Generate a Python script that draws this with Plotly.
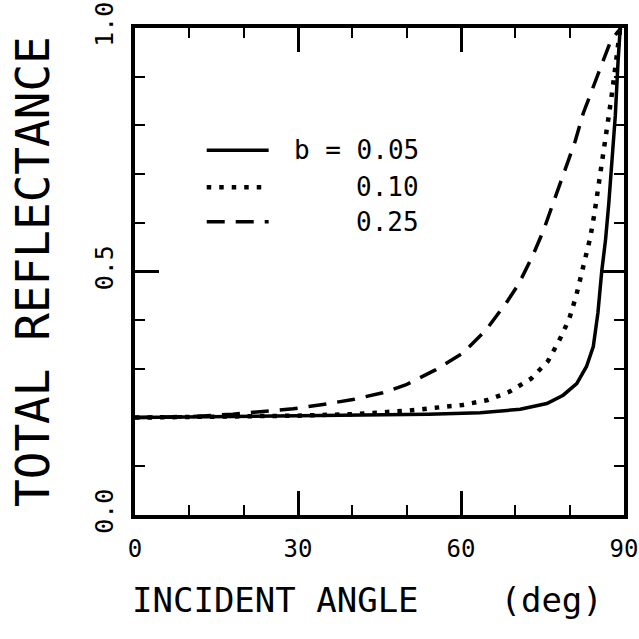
import plotly.graph_objects as go

# ---- data ----
series_labels = ["b = 0.05", "0.10", "0.25"]

angle_b005 = [0, 10, 20, 30, 40, 45, 54, 63.5, 70.9, 75.8, 78.8, 81.3, 83.1, 84.35,
              85.2, 85.9, 86.6, 87.2, 87.8, 88.4, 88.9, 89.3]
refl_b005 = [0.200, 0.201, 0.202, 0.203, 0.205, 0.206, 0.207, 0.210, 0.217, 0.229, 0.246,
             0.270, 0.305, 0.346, 0.415, 0.500, 0.565, 0.640, 0.720, 0.820, 0.930, 1.000]

angle_b010 = [0, 10, 20, 30, 40, 45, 50, 56, 60.3, 64.9, 68.9, 72.9, 76.0, 78.1, 79.9,
              81.2, 82.2, 83.0, 83.8, 84.5, 85.2, 85.8, 86.5, 87.2, 87.9, 88.5, 89.0, 89.3]
refl_b010 = [0.200, 0.201, 0.202, 0.204, 0.207, 0.210, 0.214, 0.221, 0.226, 0.236, 0.253,
             0.280, 0.316, 0.359, 0.402, 0.450, 0.498, 0.535, 0.570, 0.615, 0.665, 0.710,
             0.765, 0.820, 0.875, 0.935, 0.975, 1.000]

angle_b025 = [0, 10, 18, 23.6, 29.1, 34.6, 40.1, 45.6, 49.8, 55.3, 60.3, 64.6, 68.3, 70.7,
              73.3, 75.2, 77.0, 79.1, 81.0, 82.5, 85.0, 87.4, 88.7, 89.5]
refl_b025 = [0.200, 0.202, 0.207, 0.213, 0.218, 0.227, 0.237, 0.251, 0.267, 0.298, 0.332,
             0.380, 0.435, 0.476, 0.535, 0.585, 0.643, 0.708, 0.767, 0.825, 0.900, 0.969,
             0.990, 1.000]

x_ticks = [0, 30, 60, 90]
x_ticklabels = ["0", "30", "60", "90"]
y_ticks = [0.0, 0.5, 1.0]
y_ticklabels = ["0.0", "0.5", "1.0"]

x_title = "INCIDENT ANGLE\u00a0\u00a0\u00a0\u00a0(deg)"
y_title = "TOTAL REFLECTANCE"

FONT = "DejaVu Sans Mono"
dashes = ["solid", "4.5px,8px", "18px,11px"]
widths = [3.5, 4.5, 3.5]

fig = go.Figure()
for xs, ys, d, w in zip([angle_b005, angle_b010, angle_b025],
                        [refl_b005, refl_b010, refl_b025], dashes, widths):
    fig.add_trace(go.Scatter(x=xs, y=ys, mode="lines",
                             line=dict(color="black", width=w, dash=d),
                             showlegend=False, hoverinfo="skip"))

# legend drawn by hand (line samples + texts)
legend_rows_y = [0.749, 0.673, 0.602]
for yy, d, w in zip(legend_rows_y, dashes, widths):
    fig.add_shape(type="line", xref="x", yref="y", x0=13.2, x1=24.6, y0=yy, y1=yy,
                  line=dict(color="black", width=w, dash=d))
for yy, lab in zip(legend_rows_y, series_labels):
    fig.add_annotation(xref="paper", yref="y", x=(421 - 135) / 489, y=yy, text=lab,
                       showarrow=False, xanchor="right", yanchor="middle",
                       font=dict(family=FONT, size=26, color="black"))

# axis titles
fig.add_annotation(xref="paper", yref="paper", x=(367 - 135) / 489, y=(515 - 600) / 487,
                   text=x_title, showarrow=False, xanchor="center", yanchor="middle",
                   font=dict(family=FONT, size=34, color="black"))
fig.add_annotation(xref="paper", yref="paper", x=(33 - 135) / 489, y=(515 - 272) / 487,
                   text=y_title, showarrow=False, xanchor="center", yanchor="middle",
                   textangle=-90, font=dict(family=FONT, size=46, color="black"))

axis_common = dict(showline=True, linecolor="black", linewidth=4, mirror="allticks",
                   ticks="inside", tickcolor="black", showgrid=False, zeroline=False,
                   automargin=False, ticklabeloverflow="allow")

fig.update_xaxes(range=[0, 90], tickvals=x_ticks, ticktext=x_ticklabels,
                 ticklen=24, tickwidth=3, ticklabelstandoff=9,
                 tickfont=dict(family=FONT, size=24, color="black"),
                 minor=dict(dtick=10, ticklen=10, tickwidth=2, ticks="inside",
                            tickcolor="black", showgrid=False),
                 **axis_common)
fig.update_yaxes(range=[0, 1], tickvals=y_ticks, ticktext=y_ticklabels,
                 ticklen=24, tickwidth=3, tickangle=-90, ticklabelstandoff=8,
                 tickfont=dict(family=FONT, size=25, color="black"),
                 minor=dict(dtick=0.1, ticklen=10, tickwidth=2, ticks="inside",
                            tickcolor="black", showgrid=False),
                 **axis_common)

fig.update_layout(width=639, height=639, margin=dict(l=135, r=15, t=28, b=124),
                  plot_bgcolor="white", paper_bgcolor="white")

fig.write_html("out.html")
